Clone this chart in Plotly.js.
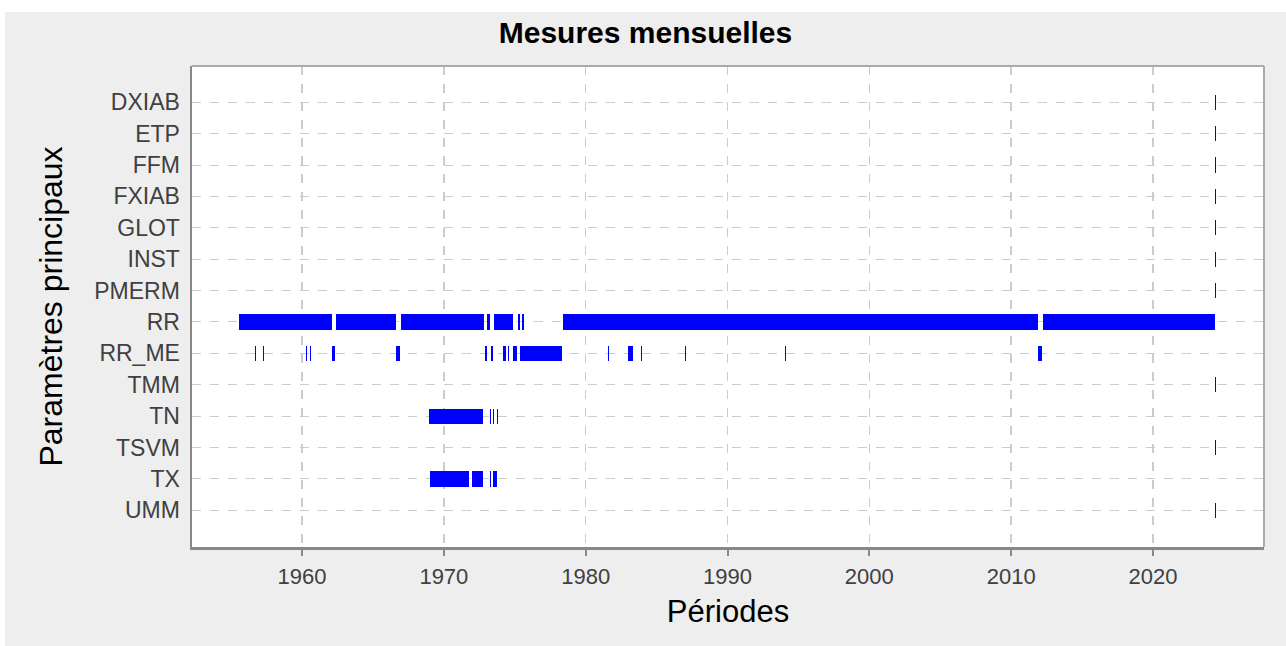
<!DOCTYPE html>
<html>
<head>
<meta charset="utf-8">
<script src="https://cdn.plot.ly/plotly-3.0.1.min.js"></script>
<style>
html,body{margin:0;padding:0;background:#ffffff;}
#chart{position:absolute;left:5px;top:12px;width:1281px;height:634px;}
</style>
</head>
<body>
<div id="chart"></div>
<script>
// Categories (top to bottom)
var categories = ["DXIAB","ETP","FFM","FXIAB","GLOT","INST","PMERM","RR","RR_ME","TMM","TN","TSVM","TX","UMM"];

// Measurement periods per parameter: [start, end] in decimal years
var segDXIAB = [[2024.34,2024.42]];
var segETP   = [[2024.34,2024.42]];
var segFFM   = [[2024.34,2024.42]];
var segFXIAB = [[2024.34,2024.42]];
var segGLOT  = [[2024.34,2024.42]];
var segINST  = [[2024.34,2024.42]];
var segPMERM = [[2024.34,2024.42]];
var segRR = [[1955.58,1962.12],[1962.42,1966.63],[1966.98,1972.83],[1973.04,1973.26],
             [1973.54,1974.88],[1975.21,1975.37],[1975.54,1975.62],[1978.40,2011.89],[2012.25,2024.37]];
var segRR_ME = [[1956.67,1956.75],[1957.25,1957.33],[1960.25,1960.33],[1960.54,1960.62],
                [1962.12,1962.33],[1966.63,1966.92],[1972.88,1973.04],[1973.33,1973.46],
                [1974.17,1974.38],[1974.50,1974.58],[1974.88,1975.17],[1975.37,1978.33],
                [1981.58,1981.67],[1982.99,1983.33],[1983.92,1984.00],[1987.00,1987.08],
                [1994.04,1994.12],[2011.88,2012.17]];
var segTMM  = [[2024.34,2024.42]];
var segTN   = [[1968.96,1972.75],[1973.25,1973.33],[1973.46,1973.54],[1973.75,1973.83]];
var segTSVM = [[2024.34,2024.42]];
var segTX   = [[1969.00,1971.79],[1972.00,1972.75],[1973.25,1973.33],[1973.46,1973.75]];
var segUMM  = [[2024.34,2024.42]];

var xTickVals = [1960,1970,1980,1990,2000,2010,2020];

var segments = {
  DXIAB:segDXIAB, ETP:segETP, FFM:segFFM, FXIAB:segFXIAB, GLOT:segGLOT, INST:segINST,
  PMERM:segPMERM, RR:segRR, RR_ME:segRR_ME, TMM:segTMM, TN:segTN, TSVM:segTSVM,
  TX:segTX, UMM:segUMM
};

var ys = [], bases = [], lens = [];
categories.forEach(function(c){
  segments[c].forEach(function(s){
    ys.push(c); bases.push(s[0]); lens.push(s[1]-s[0]);
  });
});

var trace = {
  type:'bar', orientation:'h',
  y: ys, base: bases, x: lens,
  width: 0.48,
  marker:{color:'#0000ff', line:{width:0}},
  hoverinfo:'skip',
  showlegend:false
};

var font = 'Liberation Sans, Arial, sans-serif';

var layout = {
  width:1281, height:634,
  paper_bgcolor:'#eeeeee',
  plot_bgcolor:'#ffffff',
  margin:{l:187, r:22, t:54, b:99, pad:0},
  bargap:0,
  title:{text:'<b>Mesures mensuelles</b>', font:{family:font, size:30, color:'#000000'},
         x:0.5, xanchor:'center', y:0.967, yanchor:'middle', yref:'container'},
  xaxis:{
    range:[1952.24, 2027.83],
    tickvals:xTickVals,
    ticks:'outside', ticklen:6, tickwidth:2, tickcolor:'#888888',
    ticklabelstandoff:2,
    tickfont:{family:font, size:22, color:'#404040'},
    showgrid:true, gridcolor:'#cccccc', gridwidth:1.5, griddash:'dash',
    showline:true, linecolor:'#888888', linewidth:2.5,
    zeroline:false,
    title:{text:'Périodes', font:{family:font, size:31, color:'#000000'}, standoff:13}
  },
  yaxis:{
    type:'category',
    categoryarray:categories, categoryorder:'array',
    range:[14.167, -1.154],
    ticks:'', ticklabelstandoff:5,
    tickfont:{family:font, size:23, color:'#404040'},
    showgrid:true, gridcolor:'#cccccc', gridwidth:1, griddash:'dash',
    showline:true, linecolor:'#888888', linewidth:2.5,
    zeroline:false,
    title:{text:'Paramètres principaux', font:{family:font, size:32, color:'#000000'}, standoff:22}
  },
  shapes:[
    {type:'line', xref:'paper', yref:'paper', x0:0, x1:1, y0:1, y1:1, line:{color:'#aaaaaa', width:2}},
    {type:'line', xref:'paper', yref:'paper', x0:1, x1:1, y0:0, y1:1, line:{color:'#aaaaaa', width:2}}
  ]
};

Plotly.newPlot('chart', [trace], layout, {displayModeBar:false, staticPlot:true});
</script>
</body>
</html>
